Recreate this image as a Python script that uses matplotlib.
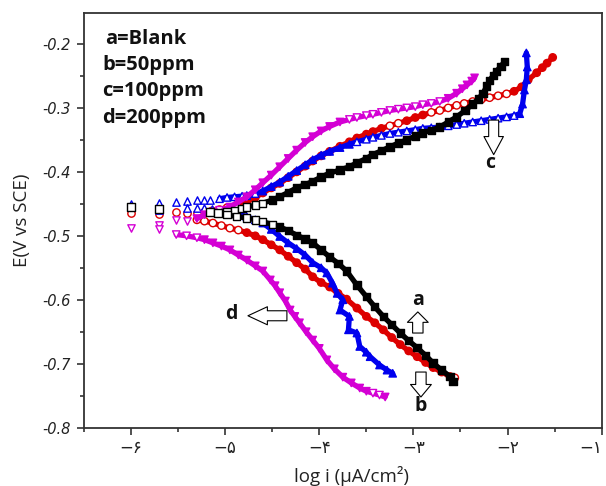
import numpy as np
import matplotlib
matplotlib.use("Agg")
import matplotlib.pyplot as plt
from matplotlib.ticker import FixedLocator, MultipleLocator

# Tafel curves: (log i, E) pairs, cathodic and anodic branches read outward
# from the corrosion potential; *_ecorr are the scattered points near Ecorr.
blank_ecorr = [(-6.00, -0.455), (-5.70, -0.458), (-5.16, -0.463), (-5.08, -0.465)]
blank_anodic = [(-4.98, -0.462), (-4.90, -0.460), (-4.82, -0.457), (-4.77, -0.455),
                (-4.68, -0.452), (-4.60, -0.449), (-4.50, -0.444), (-4.42, -0.439),
                (-4.33, -0.432), (-4.24, -0.425), (-4.15, -0.420), (-4.07, -0.415),
                (-3.98, -0.408), (-3.89, -0.402), (-3.78, -0.397), (-3.68, -0.392),
                (-3.60, -0.386), (-3.50, -0.379), (-3.43, -0.373), (-3.34, -0.367),
                (-3.25, -0.361), (-3.16, -0.355), (-3.07, -0.350), (-2.98, -0.344),
                (-2.90, -0.339), (-2.81, -0.335), (-2.72, -0.330), (-2.63, -0.322),
                (-2.54, -0.314), (-2.45, -0.304), (-2.37, -0.294), (-2.31, -0.286),
                (-2.26, -0.277), (-2.22, -0.266), (-2.19, -0.257), (-2.15, -0.249),
                (-2.12, -0.243), (-2.07, -0.235), (-2.03, -0.227)]
blank_cathodic = [(-4.98, -0.467), (-4.88, -0.470), (-4.77, -0.472), (-4.68, -0.475),
                  (-4.60, -0.478), (-4.50, -0.482), (-4.42, -0.486), (-4.33, -0.492),
                  (-4.24, -0.499), (-4.15, -0.505), (-4.07, -0.511), (-3.98, -0.522),
                  (-3.89, -0.533), (-3.80, -0.543), (-3.71, -0.555), (-3.60, -0.577),
                  (-3.50, -0.595), (-3.41, -0.611), (-3.32, -0.626), (-3.23, -0.639),
                  (-3.14, -0.652), (-3.05, -0.664), (-2.96, -0.675), (-2.87, -0.687),
                  (-2.79, -0.699), (-2.70, -0.710), (-2.61, -0.720), (-2.58, -0.728)]

ppm50_ecorr = [(-6.00, -0.464), (-5.70, -0.466), (-5.52, -0.462), (-5.41, -0.464),
               (-5.30, -0.464)]
ppm50_anodic = [(-5.22, -0.463), (-5.14, -0.461), (-5.06, -0.459), (-4.98, -0.456),
                (-4.88, -0.452), (-4.77, -0.447), (-4.68, -0.440), (-4.60, -0.433),
                (-4.51, -0.425), (-4.42, -0.418), (-4.33, -0.409), (-4.24, -0.400),
                (-4.15, -0.391), (-4.07, -0.383), (-3.98, -0.375), (-3.89, -0.368),
                (-3.78, -0.360), (-3.68, -0.353), (-3.60, -0.347), (-3.50, -0.341),
                (-3.43, -0.337), (-3.34, -0.332), (-3.25, -0.328), (-3.16, -0.324),
                (-3.07, -0.320), (-2.98, -0.315), (-2.90, -0.311), (-2.81, -0.307),
                (-2.72, -0.304), (-2.63, -0.300), (-2.54, -0.296), (-2.46, -0.293),
                (-2.37, -0.290), (-2.28, -0.287), (-2.19, -0.284), (-2.10, -0.281),
                (-2.01, -0.278), (-1.93, -0.274), (-1.85, -0.267), (-1.78, -0.256),
                (-1.69, -0.245), (-1.63, -0.237), (-1.58, -0.230), (-1.52, -0.221)]
ppm50_cathodic = [(-5.30, -0.475), (-5.22, -0.477), (-5.13, -0.480), (-5.04, -0.484),
                  (-4.95, -0.488), (-4.86, -0.491), (-4.77, -0.495), (-4.68, -0.500),
                  (-4.60, -0.506), (-4.51, -0.514), (-4.42, -0.522), (-4.33, -0.532),
                  (-4.24, -0.542), (-4.15, -0.552), (-4.07, -0.564), (-3.98, -0.573),
                  (-3.89, -0.580), (-3.80, -0.590), (-3.71, -0.599), (-3.60, -0.613),
                  (-3.50, -0.626), (-3.41, -0.636), (-3.32, -0.647), (-3.23, -0.659),
                  (-3.14, -0.670), (-3.05, -0.680), (-2.96, -0.689), (-2.87, -0.698),
                  (-2.79, -0.706), (-2.70, -0.713), (-2.61, -0.720), (-2.56, -0.722)]

ppm100_ecorr = [(-6.00, -0.450), (-5.70, -0.449), (-5.52, -0.447), (-5.41, -0.445),
                (-5.30, -0.444), (-5.22, -0.444), (-5.16, -0.444), (-5.70, -0.459),
                (-5.41, -0.457), (-5.30, -0.457), (-5.22, -0.457), (-5.14, -0.458)]
ppm100_anodic = [(-5.06, -0.442), (-4.98, -0.440), (-4.90, -0.439), (-4.82, -0.438),
                 (-4.77, -0.437), (-4.68, -0.434), (-4.60, -0.430), (-4.51, -0.423),
                 (-4.42, -0.416), (-4.33, -0.407), (-4.24, -0.398), (-4.15, -0.389),
                 (-4.07, -0.381), (-3.98, -0.374), (-3.89, -0.368), (-3.78, -0.362),
                 (-3.68, -0.357), (-3.60, -0.353), (-3.50, -0.349), (-3.43, -0.346),
                 (-3.34, -0.343), (-3.25, -0.340), (-3.16, -0.338), (-3.07, -0.336),
                 (-2.98, -0.334), (-2.90, -0.332), (-2.81, -0.331), (-2.72, -0.330),
                 (-2.63, -0.328), (-2.54, -0.326), (-2.46, -0.324), (-2.37, -0.322),
                 (-2.28, -0.320), (-2.19, -0.318), (-2.10, -0.316), (-2.01, -0.314),
                 (-1.93, -0.312), (-1.87, -0.309), (-1.84, -0.294), (-1.82, -0.272),
                 (-1.80, -0.256), (-1.79, -0.236), (-1.80, -0.214)]
ppm100_cathodic = [(-4.95, -0.463), (-4.86, -0.466), (-4.77, -0.470), (-4.68, -0.475),
                   (-4.60, -0.480), (-4.51, -0.490), (-4.42, -0.501), (-4.33, -0.511),
                   (-4.24, -0.520), (-4.15, -0.530), (-4.07, -0.542), (-3.98, -0.550),
                   (-3.92, -0.558), (-3.86, -0.574), (-3.81, -0.590), (-3.75, -0.600),
                   (-3.78, -0.616), (-3.68, -0.626), (-3.69, -0.647), (-3.60, -0.652),
                   (-3.57, -0.673), (-3.50, -0.682), (-3.46, -0.689), (-3.36, -0.702),
                   (-3.28, -0.710), (-3.22, -0.715)]

ppm200_ecorr = [(-6.00, -0.487), (-5.70, -0.483), (-5.70, -0.490), (-5.52, -0.475),
                (-5.41, -0.477)]
ppm200_anodic = [(-5.30, -0.473), (-5.22, -0.467), (-5.14, -0.463), (-5.06, -0.460),
                 (-4.95, -0.455), (-4.86, -0.447), (-4.77, -0.439), (-4.68, -0.428),
                 (-4.60, -0.417), (-4.51, -0.405), (-4.42, -0.392), (-4.33, -0.379),
                 (-4.24, -0.366), (-4.15, -0.354), (-4.07, -0.345), (-3.98, -0.336),
                 (-3.89, -0.329), (-3.78, -0.322), (-3.68, -0.318), (-3.60, -0.315),
                 (-3.50, -0.312), (-3.43, -0.310), (-3.34, -0.307), (-3.25, -0.304),
                 (-3.16, -0.302), (-3.07, -0.300), (-2.98, -0.298), (-2.90, -0.295),
                 (-2.81, -0.293), (-2.72, -0.290), (-2.63, -0.285), (-2.54, -0.277),
                 (-2.48, -0.270), (-2.43, -0.264), (-2.38, -0.258), (-2.35, -0.253)]
ppm200_cathodic = [(-5.52, -0.498), (-5.41, -0.500), (-5.30, -0.503), (-5.22, -0.506),
                   (-5.13, -0.511), (-5.04, -0.516), (-4.95, -0.522), (-4.86, -0.530),
                   (-4.77, -0.538), (-4.68, -0.547), (-4.60, -0.555), (-4.52, -0.569),
                   (-4.47, -0.578), (-4.42, -0.589), (-4.36, -0.602), (-4.31, -0.616),
                   (-4.26, -0.626), (-4.21, -0.636), (-4.14, -0.650), (-4.07, -0.663),
                   (-4.00, -0.676), (-3.92, -0.694), (-3.84, -0.708), (-3.75, -0.721),
                   (-3.66, -0.730), (-3.57, -0.738), (-3.50, -0.743), (-3.43, -0.746),
                   (-3.36, -0.749), (-3.30, -0.752)]

legend_lines = ["a=Blank", "b=50ppm", "c=100ppm", "d=200ppm"]
y_ticks = [-0.8, -0.7, -0.6, -0.5, -0.4, -0.3, -0.2]
y_tick_labels = ["-0.8", "-0.7", "-0.6", "-0.5", "-0.4", "-0.3", "-0.2"]
x_ticks = [-6, -5, -4, -3, -2, -1]
x_tick_labels = ["\u2212\u06f6", "\u2212\u06f5", "\u2212\u06f4",
                 "\u2212\u06f3", "\u2212\u06f2", "\u2212\u06f1"]

series = [
    # (ecorr, anodic, cathodic, colour, marker, zorder)
    (ppm50_ecorr, ppm50_anodic, ppm50_cathodic, "#dd0000", "o", 2),
    (ppm100_ecorr, ppm100_anodic, ppm100_cathodic, "#0000ee", "^", 3),
    (ppm200_ecorr, ppm200_anodic, ppm200_cathodic, "#d400d4", "v", 4),
    (blank_ecorr, blank_anodic, blank_cathodic, "#000000", "s", 5),
]

fig = plt.figure(figsize=(6.06, 4.86), dpi=100)
ax = fig.add_axes([0.1378, 0.12, 0.855, 0.854])
ax.set_xlim(-6.505, -1.0)
ax.set_ylim(-0.8, -0.151)

MS = 5.3


def steep_mask(pts):
    """True where the branch runs steeply on screen; there the sweep
    points pile up into a solid band, elsewhere they stay hollow."""
    disp = ax.transData.transform(np.asarray(pts))
    d = np.gradient(disp, axis=0)
    return np.abs(d[:, 1]) / np.hypot(d[:, 0], d[:, 1]) > 0.30


for ecorr, anodic, cathodic, color, marker, z in series:
    for branch in (anodic, cathodic):
        xs, ys = zip(*branch)
        ax.plot(xs, ys, color=color, lw=3.8, zorder=z,
                solid_capstyle="round")
        faces = [color if s else "white" for s in steep_mask(branch)]
        ax.scatter(xs, ys, s=MS ** 2, marker=marker, facecolors=faces,
                   edgecolors=color, linewidths=1.0, zorder=z)
    xs, ys = zip(*ecorr)
    ax.scatter(xs, ys, s=MS ** 2, marker=marker, facecolors="white",
               edgecolors=color, linewidths=1.0, zorder=z)

ax.yaxis.set_major_locator(FixedLocator(y_ticks))
ax.set_yticklabels(y_tick_labels, family="DejaVu Sans", style="italic",
                   fontsize=10.5, color="#222222")
ax.yaxis.set_minor_locator(MultipleLocator(0.05))
ax.xaxis.set_major_locator(FixedLocator(x_ticks))
ax.set_xticklabels(x_tick_labels, family="DejaVu Sans", fontsize=12,
                   color="#222222")
# the last label sits on the figure edge, so hang it to the left
ax.get_xticklabels()[-1].set_horizontalalignment("right")
ax.xaxis.set_minor_locator(MultipleLocator(0.5))

ax.tick_params(which="both", direction="out", color="#333333", width=1.2,
               top=False, right=False)
ax.tick_params(which="major", length=5, pad=4)
ax.tick_params(axis="x", which="major", pad=3)
ax.tick_params(which="minor", length=3)
for side in ax.spines.values():
    side.set_linewidth(1.3)
    side.set_color("#333333")

fig.text(22 / 606, 1 - 220 / 486, "E(V vs SCE)", rotation=90, ha="center",
         va="center", family="Open Sans", fontsize=13.5, color="#222222")
fig.text(351 / 606, 1 - 476 / 486, "log i (\u03bcA/cm\u00b2)", ha="center",
         va="center", family="Open Sans", fontsize=13.5, color="#222222")

for i, line in enumerate(legend_lines):
    x0 = 0.042 if i == 0 else 0.036
    ax.text(x0, 0.937 - 0.0635 * i, line, transform=ax.transAxes,
            ha="left", va="center", family="Open Sans", weight="bold",
            fontsize=14.5, color="#111111")


# hollow block arrows pointing at the curves
def block_arrow(tail, tip, head_len, head_w=1.5, tail_w=0.75):
    style = "simple,head_length=%s,head_width=%s,tail_width=%s" % (
        head_len, head_w, tail_w)
    ax.annotate("", xy=tip, xytext=tail,
                arrowprops=dict(arrowstyle=style, fc="white", ec="black",
                                lw=0.8, mutation_scale=10,
                                shrinkA=0, shrinkB=0), zorder=6)


block_arrow((-2.953, -0.652), (-2.953, -0.619), 0.75)
block_arrow((-2.92, -0.713), (-2.92, -0.752), 0.9)
block_arrow((-2.147, -0.319), (-2.147, -0.373), 1.3, 1.4, 0.72)
block_arrow((-4.344, -0.625), (-4.758, -0.625), 1.4, 1.3, 0.72)

label_kw = dict(ha="center", va="center", family="Open Sans", weight="bold",
                fontsize=14, color="#111111", zorder=6)
ax.text(-2.953, -0.600, "a", **label_kw)
ax.text(-2.92, -0.766, "b", **label_kw)
ax.text(-2.19, -0.386, "c", **label_kw)
ax.text(-4.93, -0.622, "d", **label_kw)

fig.savefig("out.png", dpi=100)
